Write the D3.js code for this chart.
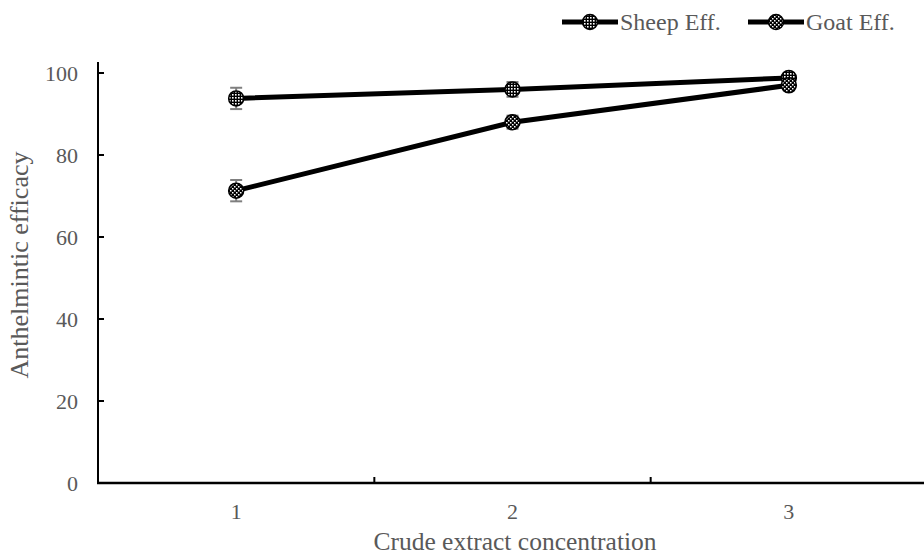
<!DOCTYPE html>
<html>
<head>
  <meta charset="UTF-8">
  <style>
    body { margin: 0; background: #fff; }
    text { font-family: "Liberation Serif", "Times New Roman", serif; fill: #595959; }
  </style>
</head>
<body>
<svg></svg>
<script src="https://d3js.org/d3.v7.min.js"></script>
<script>

// chart data
let categories = [1, 2, 3];
let sheepEff = [93.8, 96.0, 98.8];
let sheepErr = [2.6, 1.8, 0.8];
let goatEff = [71.3, 88.0, 97.0];
let goatErr = [2.6, 1.6, 0.8];
let yTicks = [0, 20, 40, 60, 80, 100];
let seriesNames = ["Sheep Eff.", "Goat Eff."];

let width = 924, height = 558;

let svg = d3.select("svg")
    .attr("width", width)
    .attr("height", height);

// marker patterns
let defs = svg.append("defs");

let p1 = defs.append("pattern")
    .attr("id", "dotsSheep")
    .attr("patternUnits", "userSpaceOnUse")
    .attr("width", 3).attr("height", 3);
p1.append("rect").attr("width", 3).attr("height", 3).attr("fill", "#000");
p1.append("rect").attr("x", 1).attr("y", 1).attr("width", 1.6).attr("height", 1.6).attr("fill", "#fff");

let p2 = defs.append("pattern")
    .attr("id", "dotsGoat")
    .attr("patternUnits", "userSpaceOnUse")
    .attr("width", 4).attr("height", 4);
p2.append("rect").attr("width", 4).attr("height", 4).attr("fill", "#000");
p2.append("rect").attr("x", 0).attr("y", 0).attr("width", 1.5).attr("height", 1.5).attr("fill", "#fff");
p2.append("rect").attr("x", 2).attr("y", 2).attr("width", 1.5).attr("height", 1.5).attr("fill", "#fff");

let x = d3.scaleLinear().domain([0.5, 3.5]).range([98, 927]);
let y = d3.scaleLinear().domain([0, 100]).range([483, 73]);

// y axis
let yAxis = svg.append("g");
yAxis.append("line")
    .attr("x1", 98).attr("x2", 98)
    .attr("y1", y(0)).attr("y2", y(102.7))
    .attr("stroke", "#000").attr("stroke-width", 2);
yAxis.selectAll("line.tick")
    .data(yTicks)
    .enter().append("line")
    .attr("class", "tick")
    .attr("x1", 98).attr("x2", 104)
    .attr("y1", d => y(d)).attr("y2", d => y(d))
    .attr("stroke", "#000").attr("stroke-width", 2);
yAxis.selectAll("text")
    .data(yTicks)
    .enter().append("text")
    .attr("x", 78)
    .attr("y", d => y(d))
    .attr("dy", "0.35em")
    .attr("text-anchor", "end")
    .style("font-size", "22px")
    .text(d => d);

// x axis
let xAxis = svg.append("g");
xAxis.append("line")
    .attr("x1", 97).attr("x2", width)
    .attr("y1", y(0)).attr("y2", y(0))
    .attr("stroke", "#000").attr("stroke-width", 2.5);
xAxis.selectAll("line.tick")
    .data([1.5, 2.5])
    .enter().append("line")
    .attr("class", "tick")
    .attr("x1", d => x(d)).attr("x2", d => x(d))
    .attr("y1", y(0)).attr("y2", y(0) - 6)
    .attr("stroke", "#000").attr("stroke-width", 2);
xAxis.selectAll("text")
    .data(categories)
    .enter().append("text")
    .attr("x", d => x(d))
    .attr("y", 519)
    .attr("text-anchor", "middle")
    .style("font-size", "22px")
    .text(d => d);

// axis titles
svg.append("text")
    .attr("x", 515)
    .attr("y", 550)
    .attr("text-anchor", "middle")
    .style("font-size", "25.5px")
    .text("Crude extract concentration");

svg.append("text")
    .attr("transform", "translate(28," + 265 + ") rotate(-90)")
    .attr("text-anchor", "middle")
    .style("font-size", "26px")
    .text("Anthelmintic efficacy");

let series = [
    {name: seriesNames[0], vals: sheepEff, err: sheepErr, fill: "url(#dotsSheep)"},
    {name: seriesNames[1], vals: goatEff, err: goatErr, fill: "url(#dotsGoat)"}
];

let line = d3.line()
    .x((d, i) => x(categories[i]))
    .y(d => y(d));

// lines
series.forEach(s => {
    svg.append("path")
        .attr("d", line(s.vals))
        .attr("fill", "none")
        .attr("stroke", "#000")
        .attr("stroke-width", 5);
});

// error bars
series.forEach(s => {
    let g = svg.append("g").attr("stroke", "#7f7f7f").attr("stroke-width", 2);
    s.vals.forEach((v, i) => {
        let cx = x(categories[i]);
        g.append("line").attr("x1", cx).attr("x2", cx)
            .attr("y1", y(v - s.err[i])).attr("y2", y(v + s.err[i]));
        g.append("line").attr("x1", cx - 6).attr("x2", cx + 6)
            .attr("y1", y(v - s.err[i])).attr("y2", y(v - s.err[i]));
        g.append("line").attr("x1", cx - 6).attr("x2", cx + 6)
            .attr("y1", y(v + s.err[i])).attr("y2", y(v + s.err[i]));
    });
});

// markers
series.forEach(s => {
    svg.append("g").selectAll("circle")
        .data(s.vals)
        .enter().append("circle")
        .attr("cx", (d, i) => x(categories[i]))
        .attr("cy", d => y(d))
        .attr("r", 7.5)
        .attr("fill", s.fill)
        .attr("stroke", "#000")
        .attr("stroke-width", 1.5);
});

// legend
let legendX = [562, 748];
let legend = svg.selectAll("g.legend")
    .data(series)
    .enter().append("g")
    .attr("class", "legend")
    .attr("transform", (d, i) => "translate(" + legendX[i] + ",22)");

legend.append("line")
    .attr("x1", 0).attr("x2", 56)
    .attr("stroke", "#000").attr("stroke-width", 5);
legend.append("circle")
    .attr("cx", 28).attr("r", 7.5)
    .attr("fill", d => d.fill)
    .attr("stroke", "#000").attr("stroke-width", 1.5);
legend.append("text")
    .attr("x", 58)
    .attr("dy", "0.35em")
    .style("font-size", "24px")
    .text(d => d.name);

</script>
</body>
</html>
